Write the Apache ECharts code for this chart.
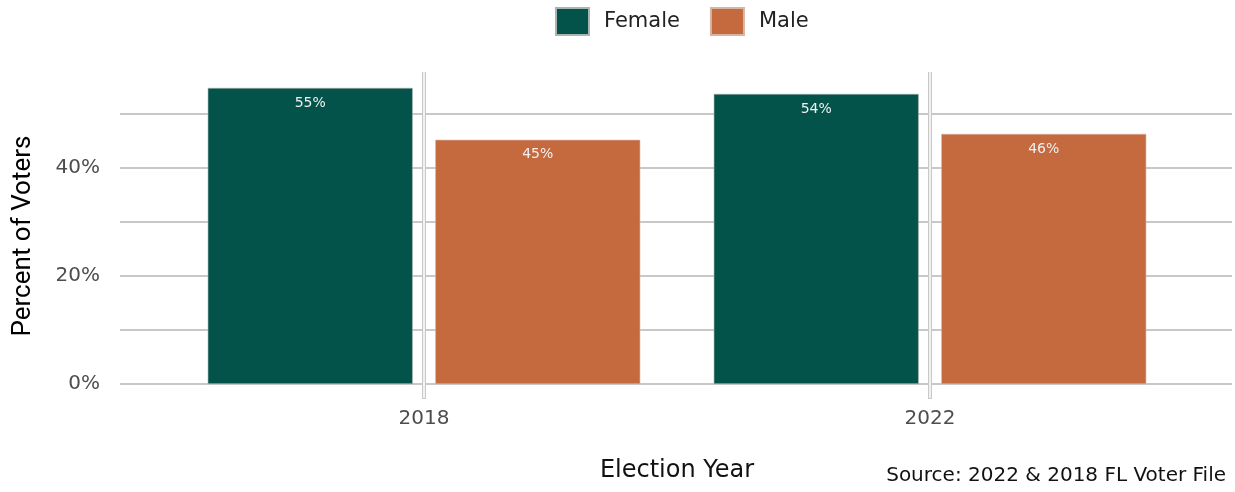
<!DOCTYPE html>
<html>
<head>
  <meta charset="UTF-8">
  <title>Voters by Gender</title>
  <script src="https://cdn.jsdelivr.net/npm/echarts@6/dist/echarts.min.js"></script>
  <style>
    html, body { margin: 0; padding: 0; background: #fff; }
    #main { width: 1235px; height: 492px; }
  </style>
</head>
<body>
<div id="main"></div>
<script type="text/javascript">
  // data
  var years = ['2018', '2022'];
  var female = [54.8, 53.7];
  var male = [45.2, 46.3];
  var yTicks = ['0%', '20%', '40%'];

  var myChart = echarts.init(document.getElementById('main'));

  var gray = '#c8c8c8';
  var pct = function (p) { return Math.round(p.value) + '%'; };
  // vertical lines at the category centres
  var centres = years.map(function (y) { return { xAxis: y }; });

  // empty line series used only to carry the vertical grid lines
  function vLine(color, width) {
    return {
      type: 'line',
      xAxisIndex: 1,
      yAxisIndex: 1,
      data: [],
      silent: true,
      z: 1,
      markLine: {
        silent: true,
        symbol: ['none', 'none'],
        label: { show: false },
        lineStyle: { color: color, width: width, type: 'solid' },
        data: centres
      }
    };
  }

  myChart.setOption({
    animation: false,
    textStyle: { fontFamily: 'DejaVu Sans' },
    legend: {
      top: 2,
      left: 550,
      itemWidth: 33,
      itemHeight: 27,
      itemGap: 30,
      icon: 'rect',
      textStyle: { fontSize: 21, color: '#222', padding: [0, 0, 0, 10] },
      data: ['Female', 'Male']
    },
    title: {
      text: 'Source: 2022 & 2018 FL Voter File',
      right: 4,
      bottom: 1,
      textStyle: { fontSize: 20, fontWeight: 'normal', color: '#111', fontFamily: 'DejaVu Sans' }
    },
    // grid 0: panel with horizontal grid lines, grid 1: the bars
    grid: [
      { left: 120, right: 3, top: 72, bottom: 108 },
      { left: 171, right: 52, top: 72, bottom: 108 }
    ],
    xAxis: [{
      gridIndex: 0,
      type: 'value',
      min: 0,
      max: 1,
      show: false
    }, {
      gridIndex: 1,
      type: 'category',
      data: years,
      axisLine: { show: false },
      axisTick: { show: true, alignWithLabel: true, length: 15, lineStyle: { color: gray, width: 4 } },
      axisLabel: { margin: 25, fontSize: 20, color: '#4d4d4d' },
      splitLine: { show: false },
      name: 'Election Year',
      nameLocation: 'middle',
      nameGap: 75,
      nameTextStyle: { fontSize: 24, color: '#111' }
    }, {
      // white centre of the ticks below the panel
      gridIndex: 1,
      type: 'category',
      data: years,
      position: 'bottom',
      axisLine: { show: false },
      axisLabel: { show: false },
      axisTick: { show: true, alignWithLabel: true, length: 14, lineStyle: { color: '#fff', width: 1.5 } },
      splitLine: { show: false }
    }],
    yAxis: [{
      gridIndex: 0,
      type: 'value',
      min: 0,
      max: 57.75,
      interval: 10,
      axisLine: { show: false },
      axisTick: { show: false },
      axisLabel: {
        margin: 20,
        fontSize: 20,
        color: '#4d4d4d',
        showMaxLabel: false,
        formatter: function (v) {
          var i = yTicks.indexOf(v + '%');
          return i >= 0 ? yTicks[i] : '';
        }
      },
      splitLine: { showMaxLine: false, lineStyle: { color: gray, width: 2 } },
      name: 'Percent of Voters',
      nameLocation: 'middle',
      nameGap: 84,
      nameTextStyle: { fontSize: 26, color: '#000', fontFamily: 'Roboto', padding: [0, 16, 0, 0] }
    }, {
      gridIndex: 1,
      type: 'value',
      min: 0,
      max: 57.75,
      show: false,
      splitLine: { show: false }
    }],
    series: [
      vLine(gray, 4),
      vLine('#fff', 1.5),
      {
        name: 'Female',
        type: 'bar',
        xAxisIndex: 1,
        yAxisIndex: 1,
        data: female,
        barWidth: 205,
        barGap: '11%',
        itemStyle: { color: '#03534A', borderColor: '#a9b5b2', borderWidth: 0.6 },
        label: { show: true, position: 'insideTop', distance: 8, color: '#f0f0f0', fontSize: 14, formatter: pct }
      }, {
        name: 'Male',
        type: 'bar',
        xAxisIndex: 1,
        yAxisIndex: 1,
        data: male,
        barWidth: 205,
        barGap: '11%',
        itemStyle: { color: '#C5693F', borderColor: '#d8b4a2', borderWidth: 0.6 },
        label: { show: true, position: 'insideTop', distance: 8, color: '#f0f0f0', fontSize: 14, formatter: pct }
      }
    ]
  });
</script>
</body>
</html>
